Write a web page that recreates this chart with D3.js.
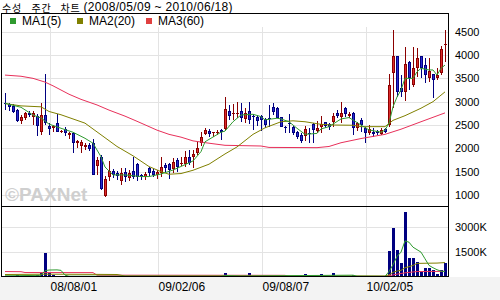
<!DOCTYPE html>
<html>
<head>
<meta charset="utf-8">
<script src="https://cdn.jsdelivr.net/npm/d3@7"></script>
<style>
body { margin: 0; background: #ffffff; }
svg { display: block; font-family: "Liberation Sans", Arial, sans-serif; }
</style>
</head>
<body>
<script>
// weekly candles, 2008/05/09 .. 2010/06/18 (111 weeks)
var open = [2980,2940,2910,2830,2590,2640,2760,2680,2700,2340,
            2720,2480,2430,2540,2340,2420,2290,2330,2110,2050,
            2020,2070,2110,1620,1810,980,1380,1520,1470,1290,
            1500,1360,1520,1670,1430,1390,1570,1520,1420,1465,
            1644,1658,1558,1751,1658,1665,1808,1822,1908,2108,
            2308,2372,2336,2322,2394,2415,2801,2745,2736,2801,
            2629,2801,2701,2679,2694,2622,2644,2893,2858,2665,
            2465,2536,2465,2358,2286,2265,2336,2515,2379,2465,
            2558,2522,2572,2765,2679,2858,2693,2750,2429,2608,
            2429,2322,2358,2372,2301,2408,2501,3608,3986,3300,
            3215,3858,3358,3715,3986,3786,3515,3586,3515,3608,4229]
var high = [3180,2980,2960,2850,2720,2780,2810,2790,2730,2970,
            3590,2540,2500,2740,2400,2450,2360,2350,2180,2180,
            2110,2120,2190,1820,1860,1410,1730,1560,1510,1570,
            1570,1540,1810,1690,1460,1500,1600,1560,1540,1822,
            1694,1679,1786,1786,1822,1944,1965,1965,2129,2344,
            2429,2415,2358,2394,2415,3108,2929,2944,3001,2965,
            2858,2986,2729,2715,2715,2658,2929,2965,2893,2680,
            2480,2736,2480,2370,2322,2479,2429,2536,2593,2693,
            2572,2550,2750,2822,3001,2893,2786,2786,2572,2644,
            2465,2501,2429,2390,2429,2444,3586,4536,3986,3580,
            4179,3872,4179,4144,3986,3929,3929,3600,3715,4201,4536]
var low = [2820,2810,2760,2560,2530,2600,2680,2500,2260,2290,
           2500,2290,2350,2340,2320,2270,2190,1910,2000,1900,
           1960,1950,1420,1430,1100,950,1310,1360,1330,1220,
           1270,1290,1350,1300,1330,1330,1400,1380,1350,1394,
           1501,1344,1465,1501,1629,1608,1644,1586,1858,2058,
           2286,2251,2251,2286,2179,2372,2608,2608,2644,2572,
           2536,2515,2394,2486,2372,2429,2465,2715,2643,2451,
           2336,2336,2286,2194,2108,2165,2122,2108,2322,2322,
           2429,2400,2465,2643,2536,2665,2643,2286,2372,2358,
           2108,2286,2251,2286,2286,2322,2465,2872,3108,3100,
           3015,3251,3322,3536,3501,3394,3429,3086,3465,3572,3843]
var close = [2940,2880,2770,2590,2670,2750,2720,2760,2470,2720,
             2540,2420,2480,2360,2380,2330,2330,2110,2160,2140,
             2070,1980,1430,1740,1120,1340,1520,1430,1410,1470,
             1390,1470,1390,1380,1380,1450,1470,1420,1500,1608,
             1586,1536,1715,1608,1694,1808,1694,1879,2015,2251,
             2394,2301,2340,2358,2344,2844,2701,2750,2765,2658,
             2758,2608,2672,2586,2608,2500,2622,2786,2650,2465,
             2443,2515,2322,2236,2165,2408,2308,2393,2443,2515,
             2479,2465,2693,2693,2750,2736,2736,2429,2536,2501,
             2322,2415,2301,2322,2394,2358,3358,3986,3215,3215,
             3801,3501,3715,3929,3715,3572,3658,3465,3572,4129,4236]
// volume in thousands
var volume = [60,50,40,130,40,40,50,60,130,220,
              1460,220,100,60,50,40,40,60,40,40,
              30,40,60,40,50,40,40,30,30,30,
              30,30,30,30,30,30,30,30,30,30,
              30,30,30,30,30,30,30,30,30,30,
              40,40,40,40,40,260,60,50,50,50,
              50,250,40,40,40,40,40,30,30,30,
              30,30,30,30,30,200,30,30,30,200,
              30,30,260,40,40,40,40,100,30,30,
              30,30,30,30,30,30,1560,2980,1620,860,
              3930,1160,1160,920,320,550,550,430,200,430,860]

// moving averages: [week, value]
var ma5 = [[0,2965],[4,2880],[7,2715],[9,2650],[11,2520],[14,2430],[17,2345],[20,2215],[22,2110],
           [24,1820],[25,1600],[27,1430],[30,1430],[34,1395],[36,1395],[39,1450],[42,1535],[45,1650],
           [47,1730],[49,1930],[50,2140],[54,2345],[55,2370],[57,2570],[59,2715],[62,2730],[64,2680],
           [65,2610],[68,2645],[69,2630],[71,2570],[73,2430],[75,2300],[78,2320],[79,2415],[81,2465],
           [84,2630],[86,2660],[89,2500],[91,2395],[94,2345],[95,2390],[96,2540],[97,2890],[98,3100],
           [99,3250],[100,3500],[102,3500],[103,3640],[104,3715],[106,3680],[107,3680],[108,3570],
           [109,3715],[110,3785]]
var ma20 = [[0,2960],[4,2910],[9,2890],[11,2790],[14,2720],[20,2540],[24,2290],[28,2040],[32,1840],
            [36,1610],[39,1500],[41,1445],[44,1460],[47,1530],[51,1660],[55,1880],[58,2030],[62,2300],
            [65,2440],[69,2570],[72,2590],[75,2570],[79,2515],[82,2500],[87,2495],[89,2465],[95,2465],
            [97,2600],[100,2700],[104,2860],[107,3000],[110,3210]]
var ma60 = [[0,3570],[4,3545],[7,3500],[10,3420],[12,3340],[14,3250],[16,3160],[19,3050],[23,2930],
            [26,2820],[30,2690],[33,2580],[38,2390],[41,2300],[44,2240],[47,2160],[51,2110],[55,2065],
            [64,2050],[66,2020],[78,2015],[81,2040],[84,2120],[89,2210],[95,2300],[99,2410],[104,2570],
            [110,2760]]
var vma5 = [[0,70],[9,100],[10,380],[11,420],[13,430],[14,400],[15,110],[16,50],[54,50],[55,90],
            [59,60],[82,100],[87,110],[88,50],[95,40],[96,330],[97,740],[98,1240],[99,1500],[100,2180],
            [101,2100],[102,1800],[103,1650],[104,1500],[105,1100],[106,700],[107,560],[108,440],
            [109,350],[110,330]]
var vma20 = [[0,150],[10,170],[22,160],[28,150],[30,60],[95,60],[96,130],[97,280],[98,360],[99,400],
             [100,560],[101,620],[102,700],[103,820],[105,830],[108,840],[110,870]]
var vma60 = [[0,330],[4,320],[5,270],[22,265],[23,110],[70,100],[71,40],[95,40],[96,80],[98,170],
             [100,250],[103,330],[110,340]]

var dateTicks = [12, 39, 65, 91]
var dateLabels = ["08/08/01", "09/02/06", "09/08/07", "10/02/05"]
var priceTicks = [1000, 1500, 2000, 2500, 3000, 3500, 4000, 4500]
var volTicks = [1500, 3000]
var legendNames = ["MA1(5)", "MA2(20)", "MA3(60)"]
var titleWords = ["수성", "주간", "차트"]
var titleRange = "(2008/05/09 ~ 2010/06/18)"

var W = 500, H = 300
var frame = {left: 1.5, right: 448.5, top: 13.5, mid: 206.5, bottom: 276.5}
var colors = {ma5: "#2f9a2f", ma20: "#808000", ma60: "#e8305a",
              upFill: "#dd2b2b", upLine: "#8b0000", dnFill: "#2a2ad0", dnLine: "#000080",
              grid: "#e3e3e3", vol: "#000080"}

var svg = d3.select("body").append("svg")
    .attr("width", W)
    .attr("height", H)

svg.append("rect").attr("x", 0).attr("y", 277).attr("width", W).attr("height", 23).attr("fill", "#f3f3f3")

var x = d3.scaleLinear().domain([0, 110]).range([5, 445])
var y = d3.scaleLinear().domain([1000, 4500]).range([195, 31.7])
var yv = d3.scaleLinear().domain([0, 3000]).range([277, 227.3])

var crisp = function(v) { return Math.round(v) + 0.5 }

// grid
var grid = svg.append("g").attr("stroke", colors.grid).attr("shape-rendering", "crispEdges")
grid.selectAll("line.h").data(priceTicks).enter().append("line")
    .attr("x1", frame.left).attr("x2", frame.right)
    .attr("y1", function(d) { return crisp(y(d)) })
    .attr("y2", function(d) { return crisp(y(d)) })
grid.selectAll("line.hv").data(volTicks).enter().append("line")
    .attr("x1", frame.left).attr("x2", frame.right)
    .attr("y1", function(d) { return crisp(yv(d)) })
    .attr("y2", function(d) { return crisp(yv(d)) })
grid.selectAll("line.v").data(dateTicks).enter().append("line")
    .attr("x1", function(d) { return crisp(x(d) - 3) })
    .attr("x2", function(d) { return crisp(x(d) - 3) })
    .attr("y1", 27).attr("y2", frame.bottom)

// watermark
svg.append("text")
    .attr("x", 5).attr("y", 201)
    .attr("font-size", 19).attr("font-weight", "bold")
    .attr("fill", "#cfcfcf")
    .text("\u00a9PAXNet")

// moving average lines
var maLine = d3.line().x(function(d) { return x(d[0]) }).y(function(d) { return y(d[1]) })
var vLine = d3.line().x(function(d) { return x(d[0]) }).y(function(d) { return yv(d[1]) })

var maGroup = svg.append("g").attr("fill", "none").attr("stroke-width", 1)
maGroup.append("path").attr("d", maLine(ma60)).attr("stroke", colors.ma60)
maGroup.append("path").attr("d", maLine(ma20)).attr("stroke", colors.ma20)

// candles
var idx = d3.range(open.length)
var candles = svg.append("g").attr("shape-rendering", "crispEdges")
var up = function(i) { return close[i] >= open[i] }

candles.selectAll("rect.wick").data(idx).enter().append("rect")
    .attr("x", function(i) { return Math.round(x(i)) })
    .attr("y", function(i) { return Math.round(y(high[i])) })
    .attr("width", 1)
    .attr("height", function(i) { return Math.max(1, Math.round(y(low[i])) - Math.round(y(high[i]))) })
    .attr("fill", function(i) { return up(i) ? colors.upLine : colors.dnLine })

candles.selectAll("rect.body").data(idx).enter().append("rect")
    .attr("x", function(i) { return Math.round(x(i)) - 1 })
    .attr("y", function(i) { return Math.round(y(Math.max(open[i], close[i]))) })
    .attr("width", 3)
    .attr("height", function(i) {
        return Math.max(1, Math.round(y(Math.min(open[i], close[i]))) - Math.round(y(Math.max(open[i], close[i]))))
    })
    .attr("fill", function(i) { return up(i) ? colors.upLine : colors.dnLine })

candles.selectAll("rect.inner").data(idx.filter(function(i) {
        return Math.round(y(Math.min(open[i], close[i]))) - Math.round(y(Math.max(open[i], close[i]))) > 2
    })).enter().append("rect")
    .attr("x", function(i) { return Math.round(x(i)) })
    .attr("y", function(i) { return Math.round(y(Math.max(open[i], close[i]))) + 1 })
    .attr("width", 1)
    .attr("height", function(i) {
        return Math.round(y(Math.min(open[i], close[i]))) - Math.round(y(Math.max(open[i], close[i]))) - 2
    })
    .attr("fill", function(i) { return up(i) ? colors.upFill : colors.dnFill })

maGroup.raise()
svg.append("path").attr("d", maLine(ma5)).attr("stroke", colors.ma5).attr("fill", "none")

// volume
svg.append("g").attr("shape-rendering", "crispEdges")
    .selectAll("rect").data(idx).enter().append("rect")
    .attr("x", function(i) { return Math.round(x(i)) - 1 })
    .attr("y", function(i) { return yv(volume[i]) })
    .attr("width", 3)
    .attr("height", function(i) { return 277 - yv(volume[i]) })
    .attr("fill", colors.vol)

var vg = svg.append("g").attr("fill", "none")
vg.append("path").attr("d", vLine(vma60)).attr("stroke", colors.ma60)
vg.append("path").attr("d", vLine(vma20)).attr("stroke", colors.ma20)
vg.append("path").attr("d", vLine(vma5)).attr("stroke", colors.ma5)

// frame
var fr = svg.append("g").attr("stroke", "#000").attr("fill", "none").attr("shape-rendering", "crispEdges")
fr.append("rect").attr("x", frame.left).attr("y", frame.top)
    .attr("width", frame.right - frame.left).attr("height", frame.bottom - frame.top)
fr.append("line").attr("x1", frame.left).attr("x2", frame.right).attr("y1", frame.mid).attr("y2", frame.mid)

// legend
var legendColors = [colors.ma5, colors.ma20, "#e04040"]
var legendX = [10, 77, 146]
var lg = svg.append("g")
lg.append("rect").attr("x", frame.left + 0.5).attr("y", frame.top + 0.5)
    .attr("width", frame.right - frame.left - 1).attr("height", 12.5).attr("fill", "#fff")
legendNames.forEach(function(name, k) {
    lg.append("rect").attr("x", legendX[k]).attr("y", 18).attr("width", 6).attr("height", 6)
        .attr("fill", legendColors[k])
    lg.append("text").attr("x", legendX[k] + 12).attr("y", 25)
        .attr("font-size", 12).attr("fill", "#000").text(name)
})

// title: korean words spaced like the original, then the date range
var titleX = [2, 31.5, 60.5]
titleWords.forEach(function(w, k) {
    svg.append("text")
        .attr("x", titleX[k]).attr("y", 11.8)
        .attr("font-size", 10)
        .attr("letter-spacing", 0.8)
        .attr("font-family", "'Noto Sans CJK KR', sans-serif")
        .attr("fill", "#000")
        .text(w)
})
svg.append("text")
    .attr("x", 83.5).attr("y", 11)
    .attr("font-size", 12)
    .attr("letter-spacing", 0.3)
    .attr("fill", "#000")
    .text(titleRange)

// right axes
var yAxis = d3.axisRight(y).tickValues(priceTicks).tickSize(0).tickPadding(7).tickFormat(d3.format("d"))
svg.append("g").attr("transform", "translate(448,0)").call(yAxis)
    .call(function(g) { g.select(".domain").remove() })
    .selectAll("text").attr("font-size", 11).attr("font-family", "'Liberation Sans', Arial, sans-serif")

var vAxis = d3.axisRight(yv).tickValues(volTicks).tickSize(0).tickPadding(7)
    .tickFormat(function(d) { return d + "K" })
svg.append("g").attr("transform", "translate(448,0)").call(vAxis)
    .call(function(g) { g.select(".domain").remove() })
    .selectAll("text").attr("font-size", 11).attr("font-family", "'Liberation Sans', Arial, sans-serif")

// date axis
var xAxis = d3.axisBottom(x).tickValues(dateTicks).tickSize(0).tickPadding(0)
    .tickFormat(function(d, k) { return dateLabels[k] })
svg.append("g").attr("transform", "translate(0,282)").call(xAxis)
    .call(function(g) { g.select(".domain").remove() })
    .selectAll("text")
    .attr("text-anchor", "start")
    .attr("x", -3)
    .attr("font-size", 12).attr("font-family", "'Liberation Sans', Arial, sans-serif")
</script>
</body>
</html>
